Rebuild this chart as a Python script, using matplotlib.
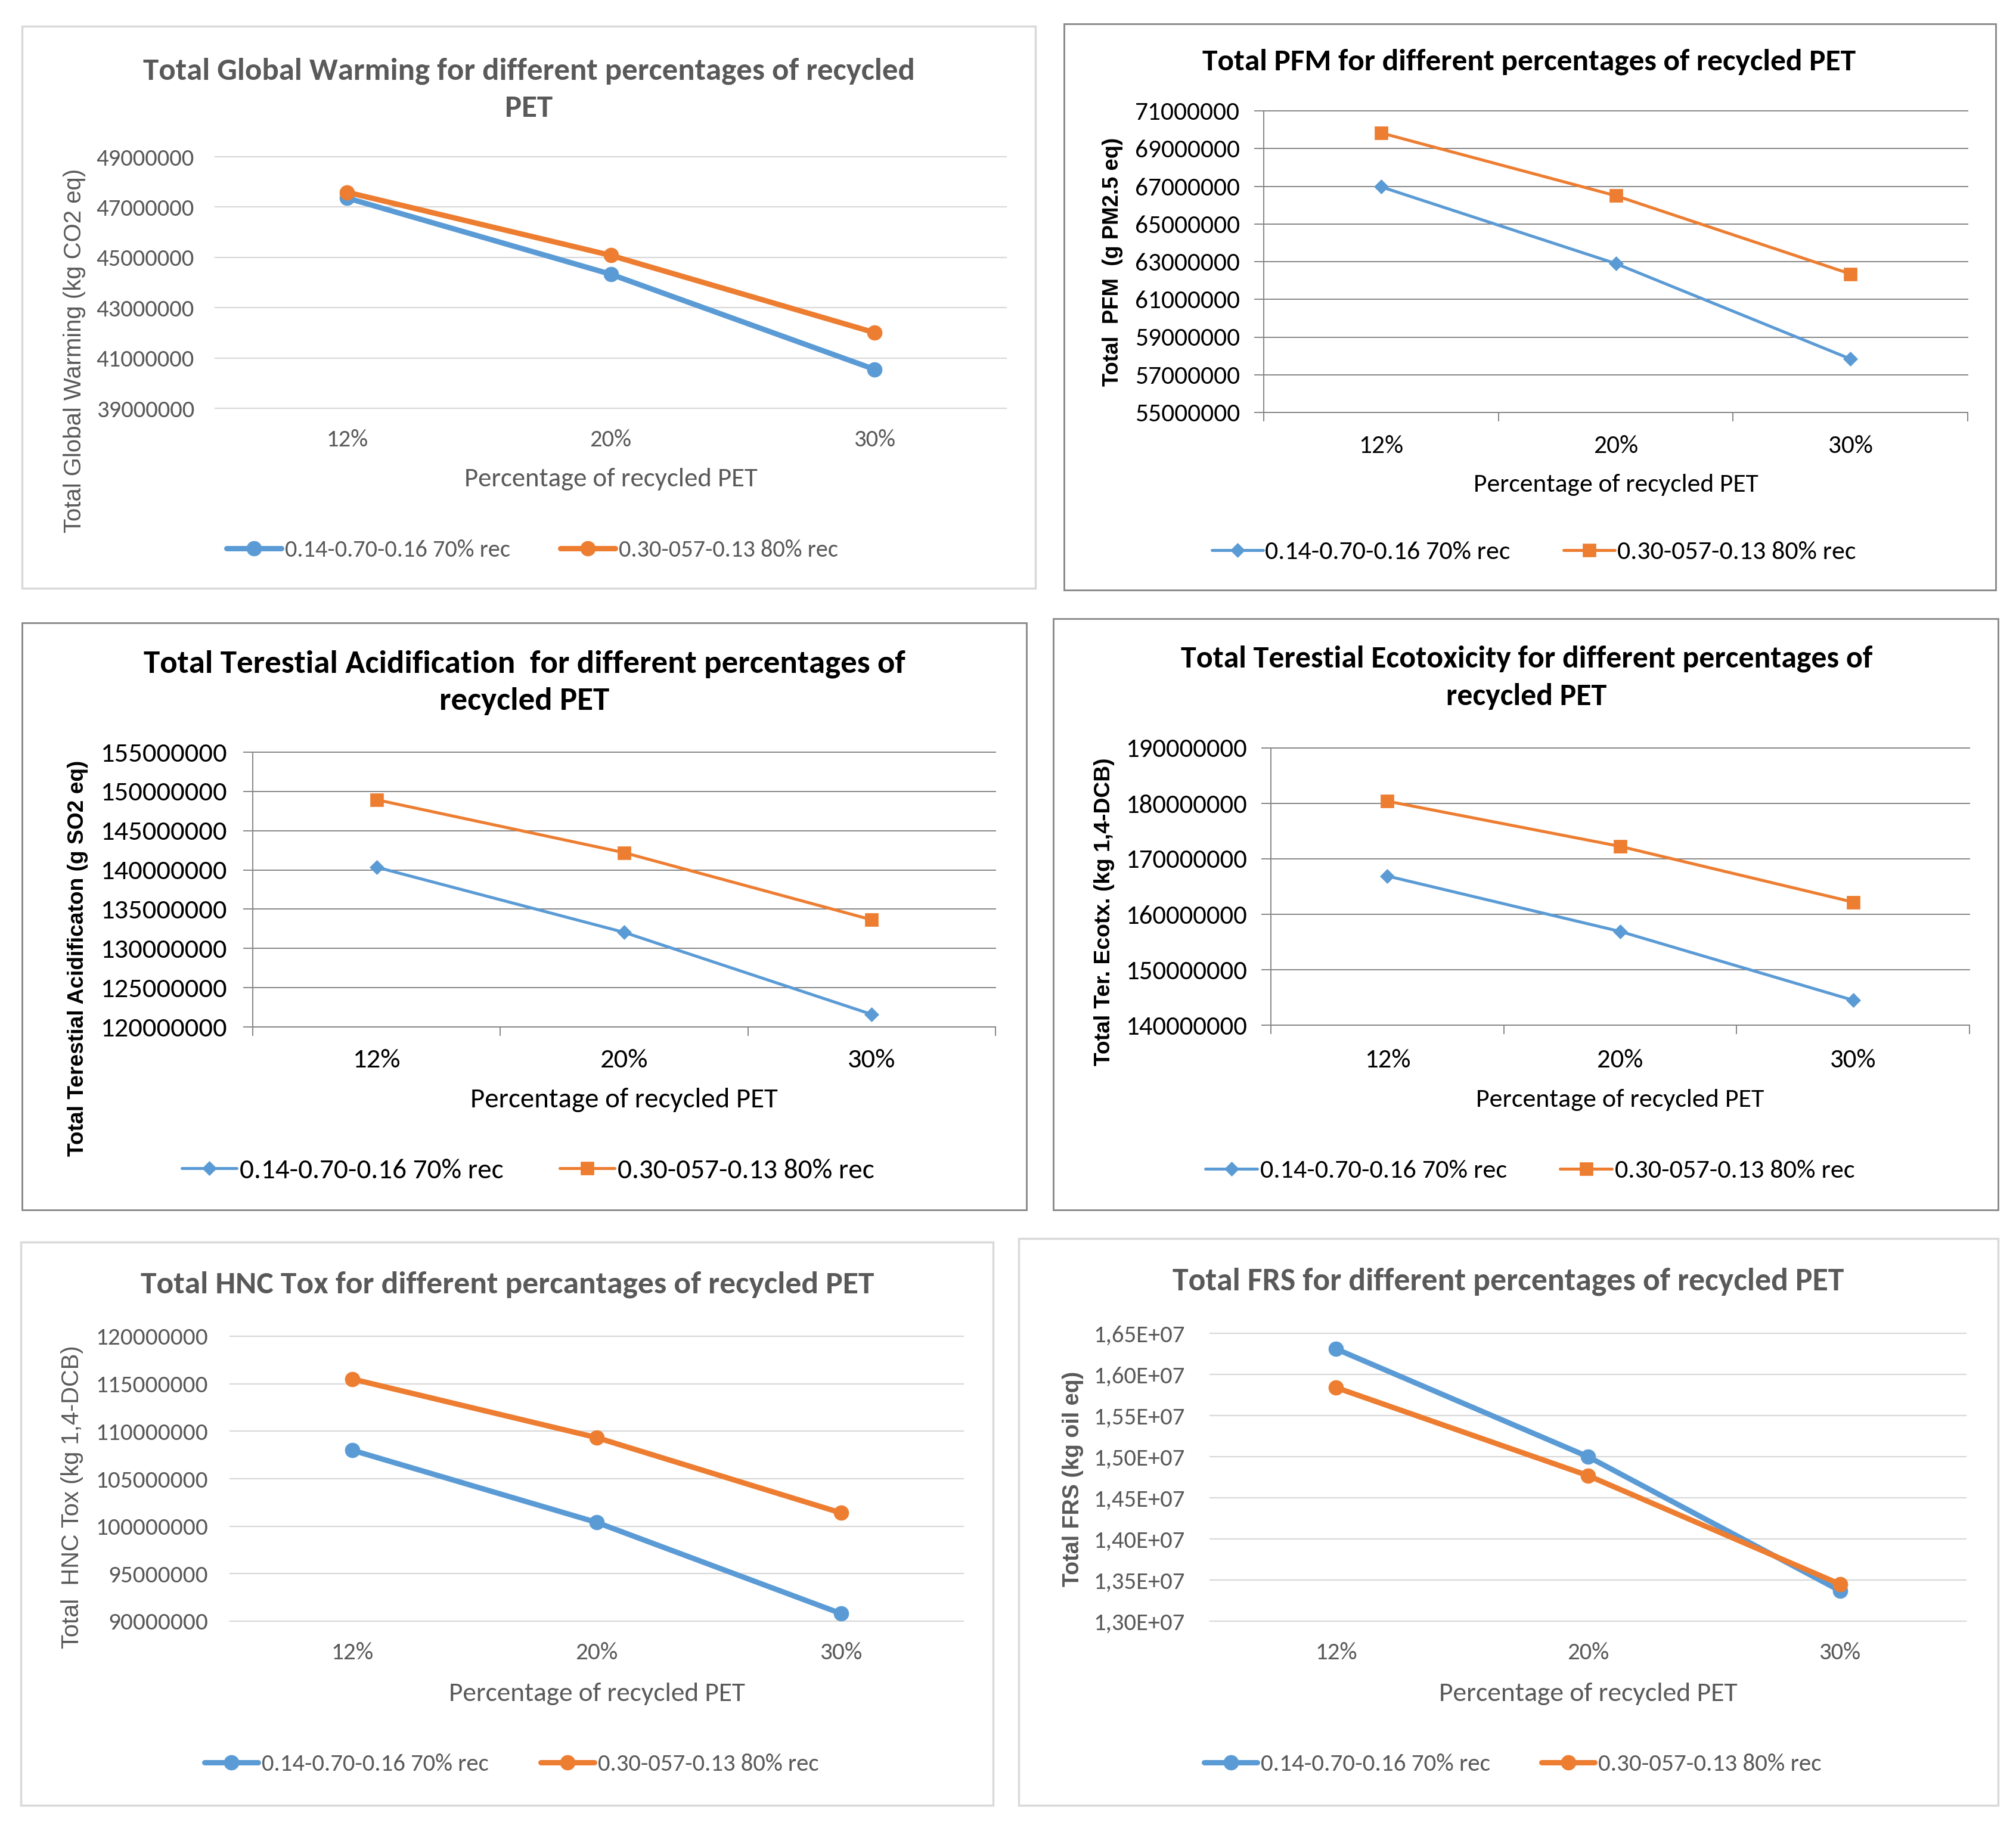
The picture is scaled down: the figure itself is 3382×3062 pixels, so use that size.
import matplotlib
matplotlib.use('Agg')
import matplotlib.pyplot as plt
from matplotlib.patches import Rectangle
from matplotlib.font_manager import FontProperties, fontManager

W, H, DPI = 3382, 3062, 100

# ---------------- data ----------------
categories = ['12%', '20%', '30%']
series_labels = ['0.14-0.70-0.16 70% rec', '0.30-057-0.13 80% rec']
x_title = 'Percentage of recycled PET'

gw_70 = [47.36e6, 44.33e6, 40.55e6]
gw_80 = [47.59e6, 45.08e6, 42.01e6]
gw_ticks = [39e6, 41e6, 43e6, 45e6, 47e6, 49e6]

pfm_70 = [66.97e6, 62.90e6, 57.84e6]
pfm_80 = [69.83e6, 66.50e6, 62.35e6]
pfm_ticks = [55e6, 57e6, 59e6, 61e6, 63e6, 65e6, 67e6, 69e6, 71e6]

ta_70 = [140.35e6, 132.05e6, 121.6e6]
ta_80 = [148.94e6, 142.2e6, 133.65e6]
ta_ticks = [120e6, 125e6, 130e6, 135e6, 140e6, 145e6, 150e6, 155e6]

te_70 = [166.9e6, 156.9e6, 144.5e6]
te_80 = [180.4e6, 172.25e6, 162.2e6]
te_ticks = [140e6, 150e6, 160e6, 170e6, 180e6, 190e6]

hnc_70 = [108.0e6, 100.4e6, 90.8e6]
hnc_80 = [115.5e6, 109.33e6, 101.4e6]
hnc_ticks = [90e6, 95e6, 100e6, 105e6, 110e6, 115e6, 120e6]

frs_70 = [16.31e6, 15.00e6, 13.37e6]
frs_80 = [15.84e6, 14.77e6, 13.45e6]
frs_ticks = [13.0e6, 13.5e6, 14.0e6, 14.5e6, 15.0e6, 15.5e6, 16.0e6, 16.5e6]

titles = [
    ['Total Global Warming for different percentages of recycled', 'PET'],
    ['Total PFM for different percentages of recycled PET'],
    ['Total Terestial Acidification  for different percentages of', 'recycled PET'],
    ['Total Terestial Ecotoxicity for different percentages of', 'recycled PET'],
    ['Total HNC Tox for different percantages of recycled PET'],
    ['Total FRS for different percentages of recycled PET'],
]
ylabels = [
    'Total Global Warming (kg CO2 eq)',
    'Total  PFM  (g PM2.5 eq)',
    'Total Terestial Acidificaton (g SO2 eq)',
    'Total Ter. Ecotx. (kg 1,4-DCB)',
    'Total  HNC Tox (kg 1,4-DCB)',
    'Total FRS (kg oil eq)',
]


def plain_fmt(v):
    return f"{v:.0f}"


def sci_comma_fmt(v):
    return f"{v / 1e7:.2f}".replace('.', ',') + 'E+07'


# ---------------- fonts ----------------
available = {f.name for f in fontManager.ttflist}


def pick(*names):
    for n in names:
        if n in available:
            return n
    return 'DejaVu Sans'


CAL = pick('Carlito', 'Lato', 'Open Sans', 'DejaVu Sans')
ARI = pick('Liberation Sans', 'Arimo', 'DejaVu Sans')

C_BLUE = '#5B9BD5'
C_ORANGE = '#ED7D31'

STYLE = {
    'new': dict(text='#595959', grid='#D9D9D9', grid_lw=1.6, border='#D9D9D9', border_lw=2.5,
                lw=6.5, markers=('o', 'o'), ms=(18, 18), axis=False),
    'old': dict(text='black', grid='#868686', grid_lw=1.4, border='#868686', border_lw=2.0,
                lw=3.6, markers=('D', 's'), ms=(12, 15.5), axis=True),
}

# layout in pixel coordinates of the full figure (y from top)
layout = [
    dict(style='new', data=(gw_70, gw_80), ticks=gw_ticks, fmt=plain_fmt,
         box=(37, 44, 1737, 987), plot=(361, 263, 1688, 685),
         title_x=887, title_y=(119, 181), title_w=1293,
         ylab_xy=(125, 588), ylab_len=612, ylab_weight='normal',
         ytl_right=326, ytl_w=164, xtl_y=738, xlab_y=804, xlab_w=490,
         leg=(893, 923), leg_w=378, leg_handle=92, leg_pad=6, leg_gap=84),
    dict(style='old', data=(pfm_70, pfm_80), ticks=pfm_ticks, fmt=plain_fmt,
         box=(1785, 40, 3348, 990), plot=(2120, 186, 3301, 692),
         title_x=2565, title_y=(104,), title_w=1095,
         ylab_xy=(1866, 439), ylab_len=416, ylab_weight='bold',
         ytl_right=2080, ytl_w=175, xtl_y=748, xlab_y=813, xlab_w=475,
         leg=(2573, 926), leg_w=410, leg_handle=86, leg_pad=4, leg_gap=89),
    dict(style='old', data=(ta_70, ta_80), ticks=ta_ticks, fmt=plain_fmt,
         box=(37, 1045, 1722, 2030), plot=(424, 1262, 1670, 1723),
         title_x=880, title_y=(1114, 1177), title_w=1276,
         ylab_xy=(131, 1608), ylab_len=661, ylab_weight='bold',
         ytl_right=381, ytl_w=211, xtl_y=1779, xlab_y=1845, xlab_w=514,
         leg=(886, 1964), leg_w=441, leg_handle=92, leg_pad=5, leg_gap=94),
    dict(style='old', data=(te_70, te_80), ticks=te_ticks, fmt=plain_fmt,
         box=(1767, 1038, 3352, 2030), plot=(2132, 1255, 3304, 1720),
         title_x=2561, title_y=(1105, 1169), title_w=1157,
         ylab_xy=(1852, 1530), ylab_len=516, ylab_weight='bold',
         ytl_right=2092, ytl_w=203, xtl_y=1779, xlab_y=1845, xlab_w=482,
         leg=(2567, 1964), leg_w=413, leg_handle=87, leg_pad=5, leg_gap=89),
    dict(style='new', data=(hnc_70, hnc_80), ticks=hnc_ticks, fmt=plain_fmt,
         box=(35, 2084, 1666, 3029), plot=(386, 2242, 1616, 2720),
         title_x=851, title_y=(2155,), title_w=1227,
         ylab_xy=(121, 2512), ylab_len=508, ylab_weight='normal',
         ytl_right=349, ytl_w=187, xtl_y=2773, xlab_y=2842, xlab_w=496,
         leg=(858, 2960), leg_w=380, leg_handle=90, leg_pad=6, leg_gap=87),
    dict(style='new', data=(frs_70, frs_80), ticks=frs_ticks, fmt=sci_comma_fmt,
         box=(1709, 2078, 3352, 3029), plot=(2030, 2237, 3298, 2720),
         title_x=2530, title_y=(2150,), title_w=1126,
         ylab_xy=(1800, 2481), ylab_len=360, ylab_weight='bold',
         ytl_right=1988, ytl_w=153, xtl_y=2773, xlab_y=2842, xlab_w=500,
         leg=(2538, 2960), leg_w=384, leg_handle=89, leg_pad=6, leg_gap=86),
]

fig = plt.figure(figsize=(W / DPI, H / DPI), dpi=DPI)
fig.patch.set_facecolor('white')
renderer = fig.canvas.get_renderer()
PX = DPI / 72.0  # pixels per point


def fit(s, target_px, family, weight='normal'):
    fp = FontProperties(family=family, weight=weight, size=40)
    w, h, d = renderer.get_text_width_height_descent(s, fp, ismath=False)
    return 40.0 * target_px / w


def fx(x):
    return x / W


def fy(y):
    return 1.0 - y / H


for i, L in enumerate(layout):
    st = STYLE[L['style']]
    tc = st['text']

    # panel border
    bx0, by0, bx1, by1 = L['box']
    fig.add_artist(Rectangle((fx(bx0), fy(by1)), (bx1 - bx0) / W, (by1 - by0) / H,
                             transform=fig.transFigure, fill=False,
                             edgecolor=st['border'], linewidth=st['border_lw']))

    # title
    tsize = fit(titles[i][0], L['title_w'], CAL, 'bold')
    for line, ty in zip(titles[i], L['title_y']):
        fig.text(fx(L['title_x']), fy(ty), line, ha='center', va='center',
                 fontsize=tsize, fontweight='bold', family=CAL, color=tc)

    # axes
    l, t, r, b = L['plot']
    ax = fig.add_axes([fx(l), fy(b), (r - l) / W, (b - t) / H])
    ax.set_facecolor('none')
    xs = list(range(len(categories)))
    a70, a80 = L['data']
    ax.plot(xs, a70, color=C_BLUE, lw=st['lw'], marker=st['markers'][0], ms=st['ms'][0],
            mfc=C_BLUE, mec=C_BLUE, mew=0.5, label=series_labels[0], zorder=3,
            solid_capstyle='round')
    ax.plot(xs, a80, color=C_ORANGE, lw=st['lw'], marker=st['markers'][1], ms=st['ms'][1],
            mfc=C_ORANGE, mec=C_ORANGE, mew=0.5, label=series_labels[1], zorder=3,
            solid_capstyle='round')

    ticks = L['ticks']
    ax.set_xlim(-0.5, len(categories) - 0.5)
    ax.set_ylim(ticks[0], ticks[-1])
    ax.set_yticks(ticks)
    ax.set_yticklabels([L['fmt'](v) for v in ticks])
    ax.set_xticks(xs)
    ax.set_xticklabels(categories)
    ax.grid(axis='y', color=st['grid'], lw=st['grid_lw'])
    ax.grid(axis='x', visible=False)
    ax.set_axisbelow(True)
    for gl in ax.get_ygridlines():
        gl.set_clip_on(False)

    tk_size = fit(L['fmt'](ticks[-1]), L['ytl_w'], CAL)
    for s in ax.spines.values():
        s.set_visible(False)
    if st['axis']:
        ax.spines['left'].set_visible(True)
        ax.spines['bottom'].set_visible(True)
        for k in ('left', 'bottom'):
            ax.spines[k].set_color(st['grid'])
            ax.spines[k].set_linewidth(st['grid_lw'])
        ytick_len_px = 16
        ax.set_xticks([x - 0.5 for x in range(len(categories) + 1)], minor=True)
        ax.tick_params(axis='x', which='minor', length=15 / PX, width=st['grid_lw'],
                       color=st['grid'], direction='out')
    else:
        ytick_len_px = 0
    ax.tick_params(axis='y', which='major', length=ytick_len_px / PX, width=st['grid_lw'],
                   color=st['grid'], labelsize=tk_size, labelcolor=tc,
                   pad=(l - L['ytl_right'] - ytick_len_px) / PX)
    ax.tick_params(axis='x', which='major', length=0, labelsize=tk_size, labelcolor=tc,
                   pad=(L['xtl_y'] - b) / PX)
    for lab in ax.get_xticklabels():
        lab.set_verticalalignment('center')
        lab.set_family(CAL)
    for lab in ax.get_yticklabels():
        lab.set_family(CAL)

    # x axis title
    xsize = fit(x_title, L['xlab_w'], CAL)
    fig.text(fx((l + r) / 2), fy(L['xlab_y']), x_title, ha='center', va='center',
             fontsize=xsize, family=CAL, color=tc)

    # y axis title
    ysize = fit(ylabels[i], L['ylab_len'], ARI, L['ylab_weight'])
    fig.text(fx(L['ylab_xy'][0]), fy(L['ylab_xy'][1]), ylabels[i], rotation=90,
             ha='center', va='center', fontsize=ysize, family=ARI,
             fontweight=L['ylab_weight'], color=tc)

    # legend
    lsize = fit(series_labels[0], L['leg_w'], CAL)
    em = lsize * PX
    handles, labels = ax.get_legend_handles_labels()
    fig.legend(handles, labels, loc='center', bbox_to_anchor=(fx(L['leg'][0]), fy(L['leg'][1])),
               ncol=2, frameon=False, prop=FontProperties(family=CAL, size=lsize),
               labelcolor=tc, handlelength=L['leg_handle'] / em,
               handletextpad=L['leg_pad'] / em, columnspacing=L['leg_gap'] / em,
               borderpad=0, borderaxespad=0, numpoints=1)

fig.savefig('out.png', dpi=DPI, facecolor='white')
